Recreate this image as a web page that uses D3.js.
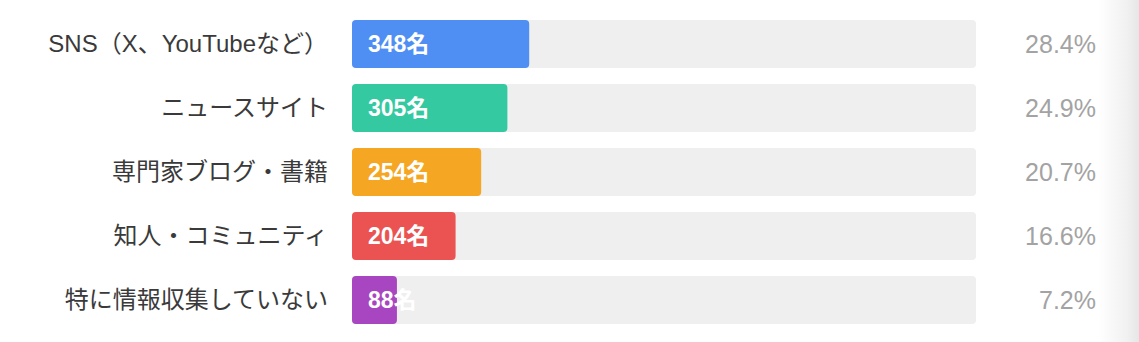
<!DOCTYPE html>
<html>
<head>
<meta charset="utf-8">
<script src="https://cdn.jsdelivr.net/npm/d3@7"></script>
<style>
  body { margin: 0; background: #fff; overflow: hidden; }
  svg { display: block; }
</style>
</head>
<body>
<div class="container"></div>
<script>
var categories = ['SNS（X、YouTubeなど）', 'ニュースサイト', '専門家ブログ・書籍', '知人・コミュニティ', '特に情報収集していない'];
var counts = [348, 305, 254, 204, 88];
var percents = [28.4, 24.9, 20.7, 16.6, 7.2];
var colors = ['#4f8ef3', '#34c9a0', '#f5a623', '#eb5353', '#a845c0'];

const WIDTH = 1139;
const HEIGHT = 342;
const TRACK_X = 352;
const TRACK_W = 624;
const TOP = 20;
const ROW = 64;
const BAR_H = 48;
const FONT = '"Liberation Sans", Arial, "Noto Sans CJK JP", sans-serif';

var svg = d3.select('.container').append('svg')
	.attr('width', WIDTH)
	.attr('height', HEIGHT);

// soft shadow at the right edge
var grad = svg.append('defs').append('linearGradient')
	.attr('id', 'edge')
	.attr('x1', '0%').attr('x2', '100%');
grad.append('stop').attr('offset', '0%').attr('stop-color', '#ffffff');
grad.append('stop').attr('offset', '70%').attr('stop-color', '#f1f1f1');
grad.append('stop').attr('offset', '100%').attr('stop-color', '#e6e6e6');
svg.append('rect')
	.attr('x', 1098).attr('y', 0)
	.attr('width', WIDTH - 1098).attr('height', HEIGHT)
	.attr('fill', 'url(#edge)');

var xScale = d3.scaleLinear().domain([0, 100]).range([0, TRACK_W]);
var yScale = d3.scaleBand()
	.domain(categories)
	.range([TOP, TOP + ROW * categories.length - (ROW - BAR_H)])
	.paddingInner((ROW - BAR_H) / ROW)
	.paddingOuter(0);

var rows = svg.selectAll('g.row')
	.data(categories)
	.enter().append('g')
	.classed('row', true)
	.attr('transform', function(d) { return 'translate(0,' + yScale(d) + ')'; });

rows.append('rect')
	.attr('x', TRACK_X)
	.attr('width', xScale(100))
	.attr('height', yScale.bandwidth())
	.attr('rx', 4)
	.attr('fill', '#efefef');

rows.append('rect')
	.attr('x', TRACK_X)
	.attr('width', function(d, i) { return xScale(percents[i]); })
	.attr('height', yScale.bandwidth())
	.attr('rx', 4)
	.attr('fill', function(d, i) { return colors[i]; });

rows.append('text')
	.attr('x', 328)
	.attr('y', yScale.bandwidth() / 2)
	.attr('dy', '0.35em')
	.attr('text-anchor', 'end')
	.attr('font-family', FONT)
	.attr('font-size', 24)
	.attr('fill', '#3a3a3a')
	.text(function(d) { return d; });

rows.append('text')
	.attr('x', TRACK_X + 16)
	.attr('y', yScale.bandwidth() / 2)
	.attr('dy', '0.35em')
	.attr('font-family', FONT)
	.attr('font-size', 23)
	.attr('font-weight', 'bold')
	.attr('fill', '#fff')
	.text(function(d, i) { return counts[i] + '名'; });

rows.append('text')
	.attr('x', 1096)
	.attr('y', yScale.bandwidth() / 2)
	.attr('dy', '0.35em')
	.attr('text-anchor', 'end')
	.attr('font-family', FONT)
	.attr('font-size', 25)
	.attr('fill', '#a3a3a3')
	.text(function(d, i) { return percents[i] + '%'; });
</script>
</body>
</html>
